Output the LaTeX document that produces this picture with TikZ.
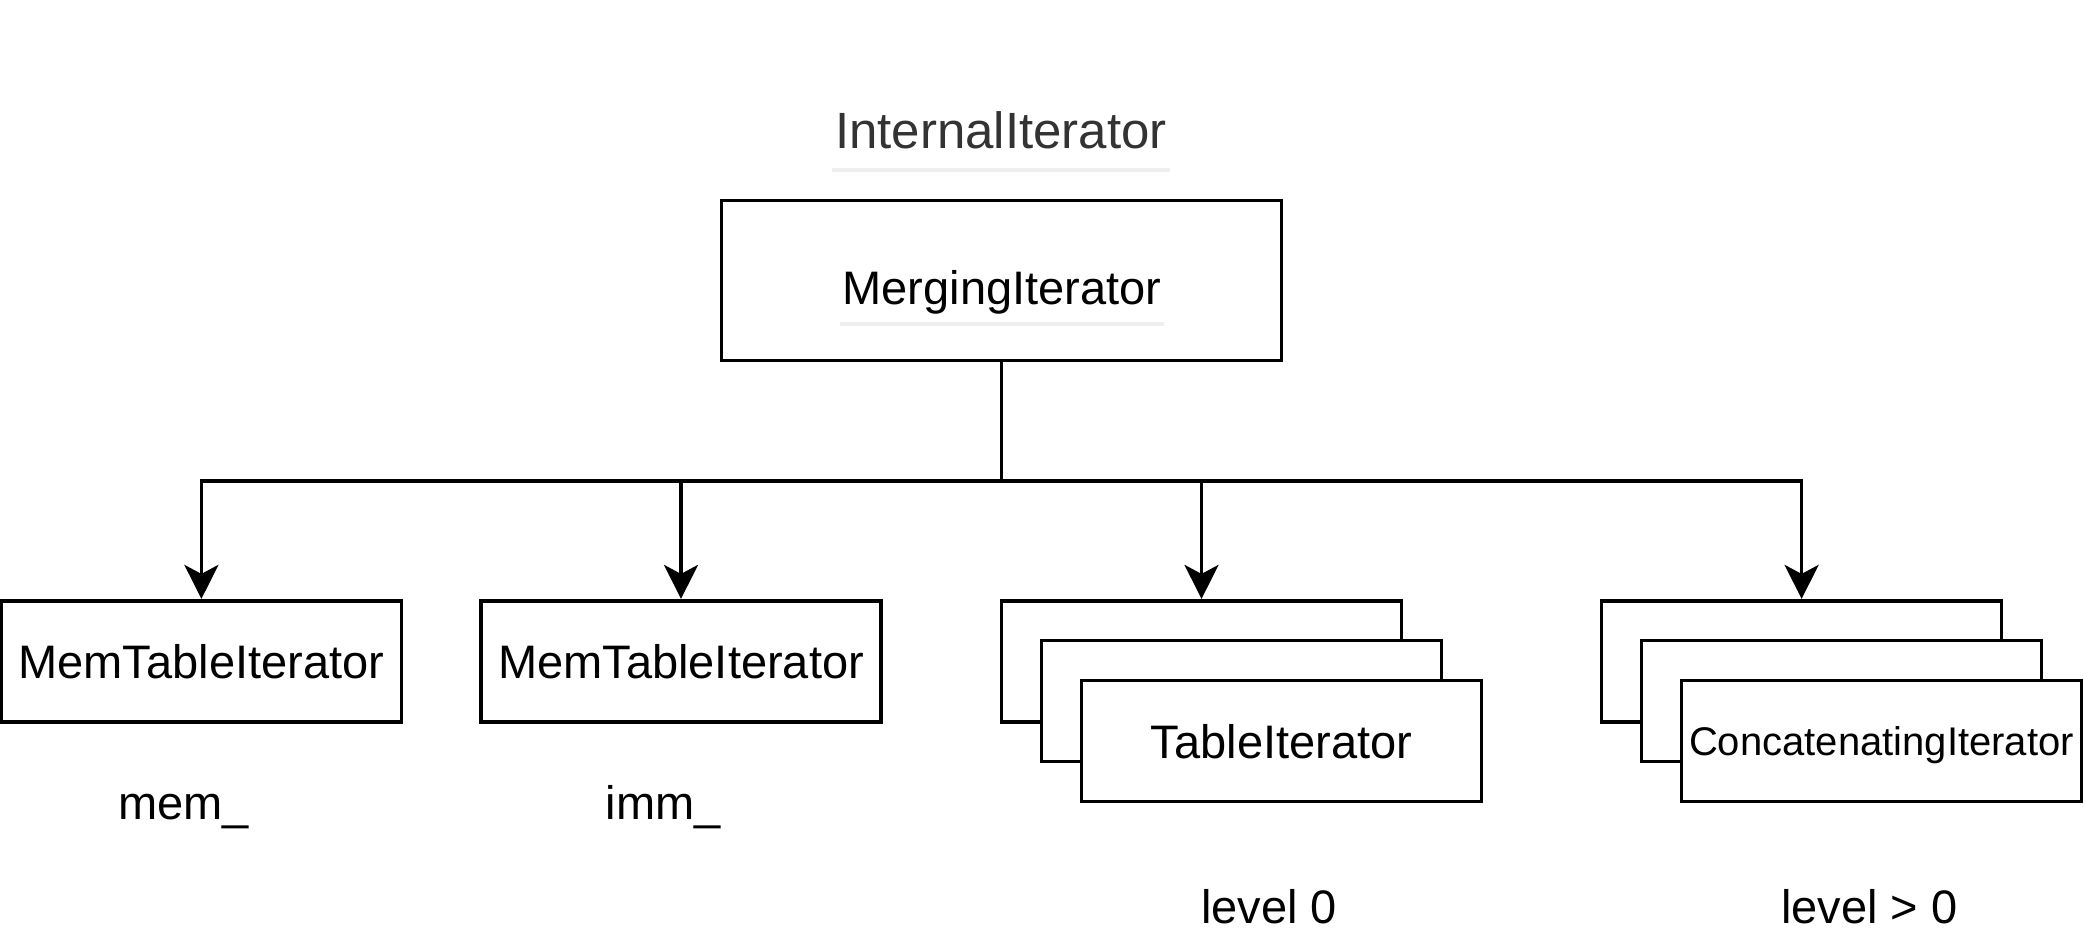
\documentclass[tikz,border=0pt]{standalone}
\usepackage{fontspec}
\setmainfont{Liberation Sans}
\usetikzlibrary{arrows.meta}
\definecolor{txtgray}{HTML}{333333}
\definecolor{ulgray}{HTML}{EEEEEE}
\begin{document}
\begin{tikzpicture}[x=1pt,y=-1pt,
  box/.style={draw=black, line width=3.6pt, fill=white, minimum width=400pt, minimum height=121pt, inner sep=0pt, font=\fontsize{47}{56}\selectfont, text height=34pt, text depth=0pt},
  lbl/.style={font=\fontsize{47}{56}\selectfont, anchor=base, inner sep=0pt},
  conn/.style={line width=3.4pt, -{Stealth[length=34pt,width=34pt,inset=9pt]}},
  uline/.style={draw=ulgray, line width=3.3pt}]
\useasboundingbox (0,0) rectangle (2084,948);

% title
\node[font=\fontsize{51}{60}\selectfont, text=txtgray, anchor=base, inner sep=0pt] (title) at (1001,148) {InternalIterator};
\draw[uline] (832,170) -- (1170,170);

% merging iterator
\node[draw=black, line width=3.6pt, minimum width=560pt, minimum height=160pt, inner sep=0pt] (M) at (1001.5,280.5) {};
\node[font=\fontsize{47}{56}\selectfont, anchor=base, inner sep=0pt] (mt) at (1002,304) {MergingIterator};
\draw[uline] (840,324) -- (1164,324);

% children
\node[box] (b1) at (201.4,661.2) {MemTableIterator};
\node[box] (b2) at (681,661.2) {MemTableIterator};
\node[box] (b3a) at (1201.5,661.2) {};
\node[box] (b3b) at (1241.5,701.1) {};
\node[box] (b3c) at (1281.5,741) {TableIterator};
\node[box] (b4a) at (1801.6,661.2) {};
\node[box] (b4b) at (1841.5,701.1) {};
\node[box, font=\fontsize{40}{48}\selectfont, text height=29pt] (b4c) at (1881.4,741) {ConcatenatingIterator};

% labels
\node[lbl] (l1) at (183.5,819) {mem\_};
\node[lbl] (l2) at (663,819) {imm\_};
\node[lbl] (l3) at (1269,923) {level 0};
\node[lbl] (l4) at (1869.5,923) {level > 0};

% connectors
\coordinate (j) at (1001.5,481);
\draw[conn] (M.south) -- (j) -| (b1.north);
\draw[conn] (M.south) -- (j) -| (b2.north);
\draw[conn] (M.south) -- (j) -| (b3a.north);
\draw[conn] (M.south) -- (j) -| (b4a.north);
\end{tikzpicture}
\end{document}
